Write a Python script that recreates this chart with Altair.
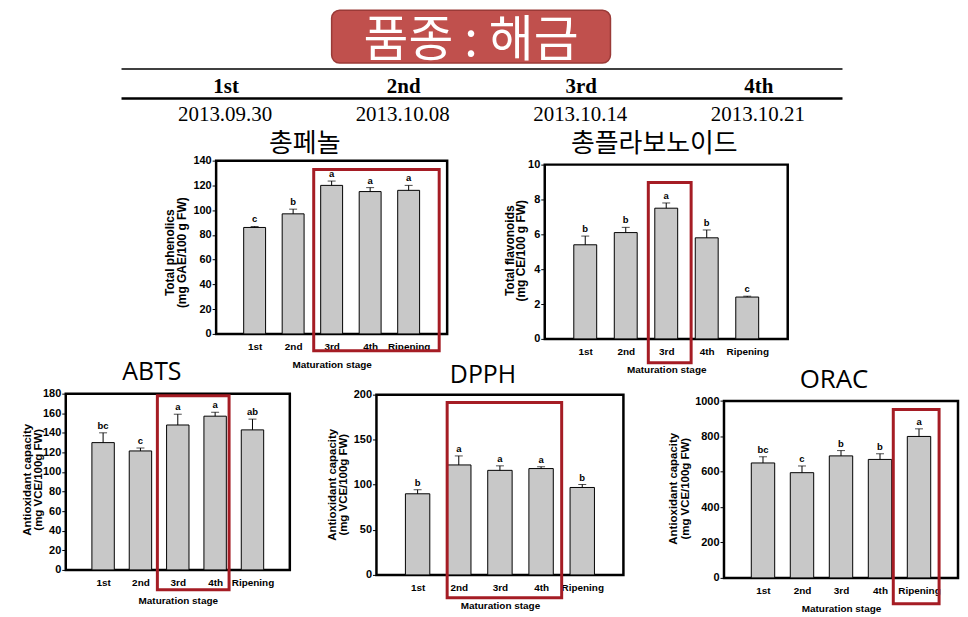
import altair as alt
import pandas as pd

# ---------------- data ----------------
stages = ["1st", "2nd", "3rd", "4th", "Ripening"]

phen_vals = [86, 97, 120, 115, 116]
phen_errs = [0.8, 3.8, 3.5, 3.2, 4.0]
phen_sig = ["c", "b", "a", "a", "a"]

flav_vals = [5.4, 6.1, 7.5, 5.8, 2.4]
flav_errs = [0.5, 0.3, 0.3, 0.45, 0.05]
flav_sig = ["b", "b", "a", "b", "c"]

abts_vals = [130, 121.5, 148, 157, 143]
abts_errs = [10, 3, 11, 4, 11]
abts_sig = ["bc", "c", "a", "a", "ab"]

dpph_vals = [90, 122, 116, 118, 97]
dpph_errs = [4.5, 10, 5, 2, 3.3]
dpph_sig = ["b", "a", "a", "a", "b"]

orac_vals = [650, 595, 690, 670, 800]
orac_errs = [35, 38, 30, 32, 43]
orac_sig = ["bc", "c", "b", "b", "a"]

header_title = "품종 : 해금"
harvest = ["1st", "2nd", "3rd", "4th"]
harvest_dates = ["2013.09.30", "2013.10.08", "2013.10.14", "2013.10.21"]

SANS = "Liberation Sans"
SERIF = "Liberation Serif"
KR = "Noto Sans CJK KR"
LAT = "Open Sans"
RED = "#a51c24"
ONE = pd.DataFrame({"k": [0]})


def spacer(w, h=10):
    return alt.Chart(ONE).mark_point(opacity=0).properties(width=w, height=h)


def panel(title, tfont, tfs, t_off, t_dx, ytitle, vals, errs, sig, frame_top, ytop,
          yticks, w, h, bar, box, ttl_x, ttl_y, lh, ttl_fs):
    df = pd.DataFrame({"stage": stages, "v": vals, "e": errs, "sig": sig})
    df["top"] = df["v"] + df["e"]

    xaxis = alt.Axis(title="Maturation stage", labelAngle=0, labelFont=SANS,
                     labelFontWeight="bold", labelFontSize=10, labelColor="black",
                     labelBaseline="alphabetic", labelPadding=16, ticks=False,
                     tickSize=0, domain=False, grid=False, labelOverlap=False,
                     titleFont=SANS, titleFontWeight="bold", titleFontSize=10,
                     titleColor="black", titleBaseline="alphabetic", titleY=34)
    x = alt.X("stage:N", sort=stages, scale=alt.Scale(type="point", padding=1.0),
              axis=xaxis)
    yscale = alt.Scale(domain=[0, ytop], nice=False, zero=True)
    yaxis = alt.Axis(values=yticks, format="d", title=ytitle, grid=False, domain=False,
                     ticks=True, tickSize=4, tickColor="black", tickWidth=1,
                     labelPadding=1, labelFont=SANS, labelFontWeight="bold",
                     labelFontSize=11, labelColor="black", labelOverlap=False,
                     titleFont=SANS,
                     titleFontWeight="bold", titleFontSize=ttl_fs, titleColor="black",
                     titleBaseline="alphabetic", titleX=ttl_x, titleY=ttl_y,
                     titleLineHeight=lh)

    def yenc(f):
        return alt.Y(f, scale=yscale, axis=yaxis)

    base = alt.Chart(df)
    fdf = pd.DataFrame({"ft": [frame_top], "fb": [0]})
    frame = alt.Chart(fdf).mark_rect(fillOpacity=0, stroke="black", strokeWidth=2.5).encode(
        x=alt.value(0), x2=alt.value(w), y=yenc("ft:Q"), y2=alt.Y2("fb:Q"))
    bars = base.mark_bar(size=bar, color="#c8c8c8", stroke="black", strokeWidth=1).encode(
        x=x, y=yenc("v:Q"))
    stem = base.mark_rule(color="black", strokeWidth=1).encode(
        x=x, y=yenc("v:Q"), y2=alt.Y2("top:Q"))
    cap = base.mark_tick(color="black", orient="horizontal", size=8, thickness=1).encode(
        x=x, y=yenc("top:Q"))
    letters = base.mark_text(font=SANS, fontWeight="bold", fontSize=9.5,
                             baseline="alphabetic", dy=-4, color="black").encode(
        x=x, y=yenc("top:Q"), text="sig:N")
    redbox = alt.Chart(ONE).mark_rect(fillOpacity=0, stroke=RED, strokeWidth=3).encode(
        x=alt.value(box[0]), x2=alt.value(box[1]), y=alt.value(box[2]), y2=alt.value(box[3]))
    ttl = alt.Chart(pd.DataFrame({"t": [title]})).mark_text(
        font=tfont, fontSize=tfs, color="black", baseline="alphabetic", align="center").encode(
        x=alt.value(w / 2 + t_dx), y=alt.value(-t_off), text="t:N")

    return alt.layer(frame, bars, stem, cap, letters, redbox, ttl).properties(
        width=w, height=h)


c1 = panel("총페놀", KR, 26, 9, -27, ["Total phenolics", "(mg GAE/100 g FW)"],
           phen_vals, phen_errs, phen_sig, 140, 140, [0, 20, 40, 60, 80, 100, 120, 140],
           232, 174, 22, (98, 224, 9, 191), -43, 92, 12, 12)
c2 = panel("총플라보노이드", KR, 26, 9, -12, ["Total flavonoids", "(mg CE/100 g FW)"],
           flav_vals, flav_errs, flav_sig, 10, 10.229, [0, 2, 4, 6, 8, 10],
           244, 179, 23, (104, 147, 22, 203), -31, 90, 11, 12)
c3 = panel("ABTS", LAT, 25, 14, -26, ["Antioxidant capacity", "(mg VCE/100g FW)"],
           abts_vals, abts_errs, abts_sig, 180, 180, [0, 20, 40, 60, 80, 100, 120, 140, 160, 180],
           225, 177, 22.5, (92, 164, 2, 197), -35, 86, 11, 11.5)
c4 = panel("DPPH", LAT, 25, 11, -17, ["Antioxidant capacity", "(mg VCE/100g FW)"],
           dpph_vals, dpph_errs, dpph_sig, 200, 201.1, [0, 50, 100, 150, 200],
           248, 182, 24.5, (71, 186, 9, 205), -41, 91, 11, 11.5)
c5 = panel("ORAC", LAT, 26, 6, -7, ["Antioxidant capacity", "(mg VCE/100g FW)"],
           orac_vals, orac_errs, orac_sig, 1000, 1042, [0, 200, 400, 600, 800, 1000],
           235, 185, 23.5, (170, 216, 16, 211), -48, 95, 12, 11.5)

# ---------------- header ----------------
hdf = pd.DataFrame({"stage": harvest, "date": harvest_dates})
hx = alt.X("stage:N", sort=harvest,
           scale=alt.Scale(type="point", domain=harvest, range=[219, 754], padding=0),
           axis=None)
hbox = alt.Chart(ONE).mark_rect(cornerRadius=8, color="#c0504d", stroke="#9a3a37",
                                strokeWidth=1.5).encode(
    x=alt.value(325), x2=alt.value(605), y=alt.value(1), y2=alt.value(54))
htext = alt.Chart(pd.DataFrame({"t": [header_title]})).mark_text(
    font=KR, fontSize=49, color="white", baseline="alphabetic", align="center").encode(
    x=alt.value(465), y=alt.value(47), text="t:N")
hline1 = alt.Chart(ONE).mark_rule(color="black", strokeWidth=1.5).encode(
    x=alt.value(114), x2=alt.value(838), y=alt.value(60))
hline2 = alt.Chart(ONE).mark_rule(color="black", strokeWidth=2.5).encode(
    x=alt.value(114), x2=alt.value(838), y=alt.value(89.5))
hstage = alt.Chart(hdf).mark_text(font=SERIF, fontWeight="bold", fontSize=21,
                                  baseline="alphabetic", color="black").encode(
    x=hx, y=alt.value(84), text="stage:N")
hdate = alt.Chart(hdf).mark_text(font=SERIF, fontSize=21, baseline="alphabetic",
                                 color="black", dx=-1).encode(
    x=hx, y=alt.value(112), text="date:N")
header = alt.layer(hbox, htext, hline1, hline2, hstage, hdate).properties(width=946, height=137)

row1 = alt.hconcat(spacer(209), c1, spacer(98), c2, spacing=0, bounds="flush")
row2 = alt.hconcat(spacer(58), c3, spacer(87), c4, spacer(101), c5, spacing=0, bounds="flush")

chart = alt.vconcat(header, row1, row2, spacing=-15).properties(
    padding=0, background="white").configure_view(stroke=None).configure_axis(
    labelOverlap=False)

chart.save("out.html", embed_options={"renderer": "svg", "actions": False})
